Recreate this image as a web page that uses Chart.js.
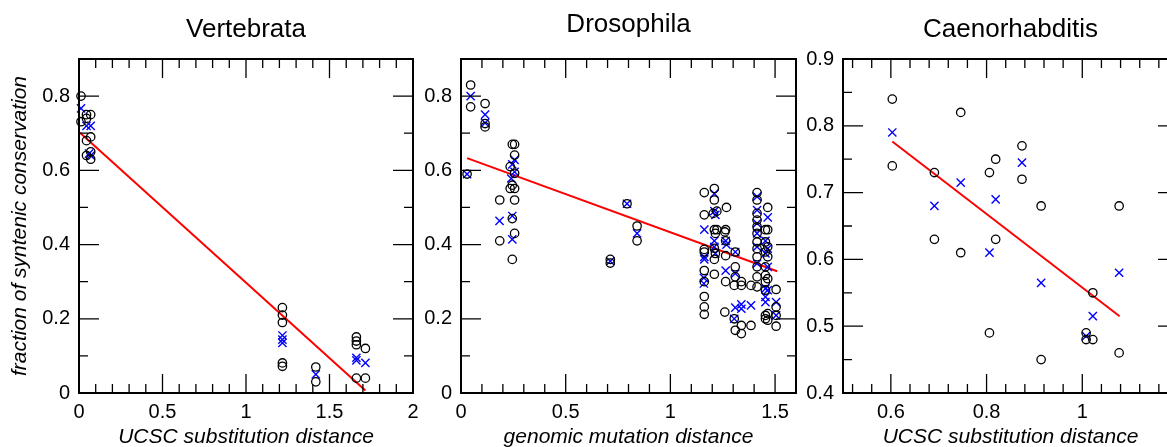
<!DOCTYPE html>
<html>
<head>
<meta charset="utf-8">
<script src="https://cdn.jsdelivr.net/npm/chart.js@4.4.1/dist/chart.umd.min.js"></script>
<style>
    html, body { margin: 0; padding: 0; background: #fff; width: 1167px; height: 447px; overflow: hidden; position: relative; }
    canvas { position: absolute; top: 0; }
</style>
</head>
<body>
<canvas id="vert" width="440" height="460" style="left:0px"></canvas>
<canvas id="dros" width="400" height="460" style="left:420px"></canvas>
<canvas id="caen" width="400" height="460" style="left:800px"></canvas>
<script>
// Vertebrata
const vertCircleX = [0.012, 0.012, 0.045, 0.045, 0.07, 0.07, 0.045, 0.045, 0.07, 0.07,
    1.218, 1.218, 1.218, 1.218, 1.218, 1.418, 1.418, 1.661, 1.661, 1.661, 1.661, 1.715, 1.715]
const vertCircleY = [0.80, 0.731, 0.75, 0.74, 0.75, 0.69, 0.68, 0.64, 0.65, 0.63,
    0.23, 0.21, 0.19, 0.081, 0.072, 0.07, 0.03, 0.151, 0.14, 0.13, 0.04, 0.12, 0.04]
const vertCrossX = [0.012, 0.045, 0.07, 0.06, 0.07, 1.218, 1.218, 1.218, 1.418, 1.661, 1.661, 1.715]
const vertCrossY = [0.767, 0.72, 0.72, 0.645, 0.64, 0.155, 0.144, 0.135, 0.05, 0.095, 0.088, 0.081]
const vertFitX = [0.006, 1.715]
const vertFitY = [0.701, 0.007]
const vertXTicks = [0, 0.5, 1, 1.5, 2]
const vertYTicks = [0, 0.2, 0.4, 0.6, 0.8]

// Drosophila
const drosCircleX = [0.029, 0.046, 0.046, 0.115, 0.115, 0.115, 0.185, 0.185,
    0.245, 0.245, 0.245, 0.245, 0.256, 0.256, 0.256, 0.256, 0.256, 0.256, 0.235, 0.235,
    0.713, 0.713, 0.793, 0.841, 0.841,
    1.162, 1.162, 1.162, 1.162, 1.162, 1.162, 1.162, 1.162, 1.162,
    1.21, 1.21, 1.205, 1.21, 1.215, 1.21, 1.215, 1.21, 1.21, 1.222, 1.222,
    1.268, 1.264, 1.26, 1.264, 1.264, 1.264, 1.26,
    1.31, 1.31, 1.31, 1.305, 1.305, 1.31,
    1.339, 1.339, 1.339, 1.339, 1.385, 1.385,
    1.414, 1.414, 1.414, 1.414, 1.414, 1.414, 1.414, 1.414, 1.414, 1.414, 1.414, 1.414,
    1.454, 1.454, 1.454, 1.454, 1.454, 1.454, 1.454, 1.454, 1.454,
    1.465, 1.465, 1.465, 1.465, 1.465, 1.465, 1.465,
    1.505, 1.505, 1.505, 1.505]
const drosCircleY = [0.59, 0.83, 0.771, 0.78, 0.726, 0.717, 0.52, 0.41,
    0.67, 0.56, 0.47, 0.36, 0.67, 0.641, 0.592, 0.551, 0.52, 0.43, 0.61, 0.551,
    0.36, 0.35, 0.51, 0.45, 0.41,
    0.54, 0.48, 0.387, 0.38, 0.33, 0.30, 0.26, 0.232, 0.212,
    0.551, 0.52, 0.484, 0.44, 0.43, 0.39, 0.376, 0.36, 0.32, 0.44, 0.49,
    0.50, 0.44, 0.434, 0.41, 0.37, 0.30, 0.218,
    0.38, 0.34, 0.313, 0.29, 0.20, 0.169,
    0.30, 0.29, 0.182, 0.16, 0.29, 0.182,
    0.54, 0.52, 0.484, 0.466, 0.448, 0.43, 0.407, 0.389, 0.367, 0.34, 0.313, 0.286,
    0.44, 0.407, 0.38, 0.34, 0.317, 0.30, 0.277, 0.209, 0.20,
    0.50, 0.44, 0.394, 0.367, 0.308, 0.214, 0.196,
    0.279, 0.232, 0.209, 0.18]
const drosCrossX = [0.029, 0.046, 0.115, 0.115, 0.184, 0.245, 0.256, 0.256, 0.24, 0.245, 0.245,
    0.713, 0.793, 0.841,
    1.162, 1.162, 1.162, 1.16, 1.16,
    1.21, 1.21, 1.215, 1.21, 1.21, 1.215,
    1.264, 1.268, 1.264,
    1.31, 1.31, 1.31, 1.305,
    1.339, 1.339, 1.385,
    1.414, 1.414, 1.414, 1.414, 1.414, 1.414,
    1.454, 1.454, 1.454, 1.454, 1.454,
    1.465, 1.465, 1.465, 1.465,
    1.505, 1.505]
const drosCrossY = [0.59, 0.80, 0.75, 0.728, 0.464, 0.616, 0.628, 0.596, 0.578, 0.477, 0.414,
    0.355, 0.51, 0.43,
    0.44, 0.367, 0.36, 0.31, 0.295,
    0.537, 0.49, 0.48, 0.41, 0.394, 0.376,
    0.41, 0.40, 0.33,
    0.38, 0.322, 0.23, 0.20,
    0.239, 0.227, 0.236,
    0.529, 0.493, 0.457, 0.43, 0.394, 0.349,
    0.41, 0.376, 0.281, 0.259, 0.245,
    0.473, 0.389, 0.34, 0.277,
    0.245, 0.209]
const drosFitX = [0.029, 1.51]
const drosFitY = [0.633, 0.328]
const drosXTicks = [0, 0.5, 1, 1.5]
const drosYTicks = [0, 0.2, 0.4, 0.6, 0.8]

// Caenorhabditis
const caenCircleX = [0.603, 0.603, 0.691, 0.691, 0.746, 0.746, 0.806, 0.806, 0.819, 0.819,
    0.874, 0.874, 0.914, 0.914, 1.008, 1.008, 1.022, 1.022, 1.077, 1.077]
const caenCircleY = [0.84, 0.74, 0.73, 0.63, 0.82, 0.61, 0.73, 0.49, 0.75, 0.63,
    0.77, 0.72, 0.68, 0.45, 0.49, 0.48, 0.55, 0.48, 0.68, 0.46]
const caenCrossX = [0.603, 0.691, 0.746, 0.806, 0.819, 0.874, 0.914, 1.008, 1.022, 1.077]
const caenCrossY = [0.79, 0.68, 0.715, 0.61, 0.69, 0.745, 0.565, 0.485, 0.515, 0.58]
const caenFitX = [0.603, 1.078]
const caenFitY = [0.7765, 0.515]
const caenXTicks = [0.6, 0.8, 1]
const caenYTicks = [0.4, 0.5, 0.6, 0.7, 0.8, 0.9]

const zip = (xs, ys) => xs.map((x, i) => ({ x: x, y: ys[i] }))

// inward ticks on all four sides plus the box
const frameTicks = {
    id: 'frameTicks',
    afterDatasetsDraw(chart, args, opts) {
        const { ctx, chartArea: a } = chart
        const x = chart.scales.x
        const y = chart.scales.y
        const steps = (min, max, step) => {
            const out = []
            const first = Math.ceil(min / step - 1e-9)
            for (let k = first; k * step <= max + 1e-9; k++) out.push(k * step)
            return out
        }
        ctx.save()
        ctx.strokeStyle = '#000'
        ctx.lineWidth = 1.3
        ctx.beginPath()
        steps(x.min, x.max, opts.xMinor).forEach(v => {
            const px = x.getPixelForValue(v)
            ctx.moveTo(px, a.bottom); ctx.lineTo(px, a.bottom - 9)
            ctx.moveTo(px, a.top); ctx.lineTo(px, a.top + 9)
        })
        steps(x.min, x.max, opts.xMajor).forEach(v => {
            const px = x.getPixelForValue(v)
            ctx.moveTo(px, a.bottom); ctx.lineTo(px, a.bottom - 19)
            ctx.moveTo(px, a.top); ctx.lineTo(px, a.top + 19)
        })
        steps(y.min, y.max, opts.yMinor).forEach(v => {
            const py = y.getPixelForValue(v)
            ctx.moveTo(a.left, py); ctx.lineTo(a.left + 9, py)
            ctx.moveTo(a.right, py); ctx.lineTo(a.right - 9, py)
        })
        steps(y.min, y.max, opts.yMajor).forEach(v => {
            const py = y.getPixelForValue(v)
            ctx.moveTo(a.left, py); ctx.lineTo(a.left + 20, py)
            ctx.moveTo(a.right, py); ctx.lineTo(a.right - 20, py)
        })
        ctx.stroke()
        ctx.lineWidth = 2
        ctx.strokeRect(a.left, a.top, a.right - a.left, a.bottom - a.top)
        ctx.restore()
    }
}

function makePanel(id, p) {
    const ctx = document.getElementById(id).getContext('2d')
    return new Chart(ctx, {
        type: 'scatter',
        data: {
            datasets: [
                {
                    data: zip(p.circleX, p.circleY),
                    pointStyle: 'circle',
                    pointRadius: 4.2,
                    borderColor: '#000',
                    backgroundColor: 'rgba(0,0,0,0)',
                    borderWidth: 1.3,
                    clip: false
                },
                {
                    data: zip(p.crossX, p.crossY),
                    pointStyle: 'crossRot',
                    pointRadius: 5.8,
                    borderColor: '#0000ff',
                    backgroundColor: '#0000ff',
                    borderWidth: 1.4,
                    clip: false
                },
                {
                    data: zip(p.fitX, p.fitY),
                    showLine: true,
                    pointRadius: 0,
                    borderColor: '#ff0000',
                    borderWidth: 2,
                    clip: false
                }
            ]
        },
        options: {
            responsive: false,
            animation: false,
            layout: { padding: { left: 0, top: 0, right: p.padRight, bottom: 0 } },
            plugins: {
                legend: { display: false },
                tooltip: { enabled: false },
                title: {
                    display: true,
                    text: p.title,
                    fullSize: false,
                    color: '#000',
                    font: { family: 'Liberation Sans, Arial, sans-serif', size: 26, weight: 'normal' },
                    padding: { top: p.titleTop, bottom: 27.8 - p.titleTop }
                },
                frameTicks: p.ticks
            },
            scales: {
                x: {
                    type: 'linear',
                    min: p.xMin,
                    max: p.xMax,
                    afterBuildTicks: s => { s.ticks = p.xTicks.map(v => ({ value: v })) },
                    afterFit: s => { s.height = 67 },
                    grid: { display: false, drawTicks: false },
                    border: { display: false },
                    ticks: {
                        autoSkip: false, maxRotation: 0, padding: 7, color: '#000',
                        font: { family: 'Liberation Sans, Arial, sans-serif', size: 20 },
                        callback: v => String(v)
                    },
                    title: {
                        display: true,
                        text: p.xTitle,
                        color: '#000',
                        font: { family: 'Liberation Sans, Arial, sans-serif', size: 21, style: 'italic' },
                        padding: { top: 0, bottom: 10.4 }
                    }
                },
                y: {
                    type: 'linear',
                    min: p.yMin,
                    max: p.yMax,
                    afterBuildTicks: s => { s.ticks = p.yTicks.map(v => ({ value: v })) },
                    afterFit: s => { s.width = p.yWidth },
                    grid: { display: false, drawTicks: false },
                    border: { display: false },
                    ticks: {
                        autoSkip: false, padding: 9, color: '#000',
                        font: { family: 'Liberation Sans, Arial, sans-serif', size: 20 },
                        callback: v => String(v)
                    },
                    title: {
                        display: !!p.yTitle,
                        text: p.yTitle || '',
                        color: '#000',
                        font: { family: 'Liberation Sans, Arial, sans-serif', size: 21, style: 'italic' },
                        padding: { top: 7.9, bottom: 0 }
                    }
                }
            }
        },
        plugins: [frameTicks]
    })
}

document.addEventListener('DOMContentLoaded', function () {
    makePanel('vert', {
        title: 'Vertebrata', titleTop: 14,
        circleX: vertCircleX, circleY: vertCircleY, crossX: vertCrossX, crossY: vertCrossY,
        fitX: vertFitX, fitY: vertFitY,
        xMin: 0, xMax: 2, yMin: 0, yMax: 0.9, xTicks: vertXTicks, yTicks: vertYTicks,
        xTitle: 'UCSC substitution distance', yTitle: 'fraction of syntenic conservation',
        yWidth: 79, padRight: 27,
        ticks: { xMinor: 0.1, xMajor: 0.5, yMinor: 0.1, yMajor: 0.2 }
    })
    makePanel('dros', {
        title: 'Drosophila', titleTop: 9.4,
        circleX: drosCircleX, circleY: drosCircleY, crossX: drosCrossX, crossY: drosCrossY,
        fitX: drosFitX, fitY: drosFitY,
        xMin: 0, xMax: 1.6, yMin: 0, yMax: 0.9, xTicks: drosXTicks, yTicks: drosYTicks,
        xTitle: 'genomic mutation distance',
        yWidth: 41, padRight: 24,
        ticks: { xMinor: 0.1, xMajor: 0.5, yMinor: 0.1, yMajor: 0.2 }
    })
    makePanel('caen', {
        title: 'Caenorhabditis', titleTop: 14,
        circleX: caenCircleX, circleY: caenCircleY, crossX: caenCrossX, crossY: caenCrossY,
        fitX: caenFitX, fitY: caenFitY,
        xMin: 0.5, xMax: 1.2, yMin: 0.4, yMax: 0.9, xTicks: caenXTicks, yTicks: caenYTicks,
        xTitle: 'UCSC substitution distance',
        yWidth: 43, padRight: 22,
        ticks: { xMinor: 0.04, xMajor: 0.2, yMinor: 0.05, yMajor: 0.1 }
    })
})
</script>
</body>
</html>
